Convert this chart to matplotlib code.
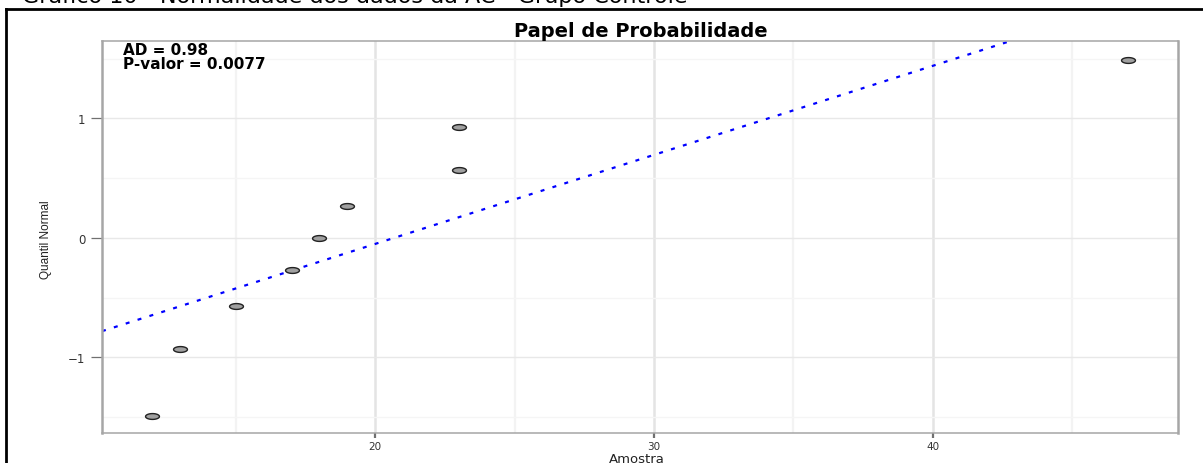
import matplotlib
matplotlib.use("Agg")
import matplotlib.pyplot as plt
import numpy as np
from matplotlib.path import Path
from matplotlib.lines import Line2D

# data
amostra = [12, 13, 15, 17, 18, 19, 23, 23, 47]
quantil = [-1.49, -0.93, -0.57, -0.27, 0.0, 0.27, 0.57, 0.93, 1.49]
line_intercept = -1.54
line_slope = 0.0745
x_ticks = [20, 30, 40]
y_ticks = [-1, 0, 1]
x_minor = [15, 25, 35, 45]
y_minor = [-1.5, -0.5, 0.5, 1.5]
ad_text = "AD = 0.98"
p_text = "P-valor = 0.0077"
title = "Papel de Probabilidade"
caption = "Gráfico 10 - Normalidade dos dados da AC - Grupo Controle"

plt.rcParams['font.family'] = ['DejaVu Sans']

W, H = 1203, 464
fig = plt.figure(figsize=(W/100, H/100), dpi=100)
ax = fig.add_axes([102/W, 30/H, (1178-102)/W, (434-42)/H])

xlim = (10.2, 48.8)
ylim = (-1.632, 1.648)
ax.set_xlim(*xlim)
ax.set_ylim(*ylim)

# grid
ax.set_xticks(x_ticks)
ax.set_yticks(y_ticks)
ax.set_xticks(x_minor, minor=True)
ax.set_yticks(y_minor, minor=True)
ax.xaxis.grid(True, which='major', color='#e4e4e4', lw=1.8)
ax.xaxis.grid(True, which='minor', color='#f3f3f3', lw=1.6)
ax.yaxis.grid(True, which='major', color='#e8e8e8', lw=1.0)
ax.yaxis.grid(True, which='minor', color='#f5f5f5', lw=1.0)
ax.set_axisbelow(True)
ax.tick_params(which='minor', length=0)
ax.tick_params(axis='x', which='major', length=3.5, width=1.6, color='#707070',
               labelsize=7.5, labelcolor='#333333', pad=2)
ax.tick_params(axis='y', which='major', length=8, width=0.9, color='#707070',
               labelsize=8.5, labelcolor='#333333', pad=4)

for s in ['left', 'right']:
    ax.spines[s].set_color('#a6a6a6')
    ax.spines[s].set_linewidth(1.8)
for s in ['top', 'bottom']:
    ax.spines[s].set_color('#a6a6a6')
    ax.spines[s].set_linewidth(1.1)

# reference line
xs = np.array(xlim)
ax.plot(xs, line_intercept + line_slope * xs, color='#0000ff', lw=1.6,
        linestyle=(0, (1.8, 3.8)), zorder=2)

# ellipse marker (stretched circle)
t = np.linspace(0, 2*np.pi, 40)
verts = np.column_stack([np.cos(t), 0.42*np.sin(t)])
ell = Path(verts, closed=True)
ax.scatter(amostra, quantil, marker=ell, s=100, facecolor='#a0a0a0',
           edgecolor='#222222', linewidths=1.0, zorder=3)

# labels
fig.text(637/W, 1 - 463/H, "Amostra", fontsize=9.5, color='#222222',
         ha='center', va='baseline')
fig.text(46/W, 1 - 240/H, "Quantil Normal", fontsize=8.5, color='#222222',
         rotation=90, ha='center', va='center', family='Liberation Sans')
fig.text(641/W, 1 - 37/H, title, fontsize=14, fontweight='bold',
         ha='center', va='baseline')

fig.text(123/W, 1 - 55/H, ad_text, fontsize=11, fontweight='bold',
         ha='left', va='baseline')
fig.text(123/W, 1 - 69/H, p_text, fontsize=11, fontweight='bold',
         ha='left', va='baseline')

# outer frame and caption
fig.add_artist(Line2D([6/W, 1.0], [1 - 10/H, 1 - 10/H], transform=fig.transFigure,
                      color='black', lw=2))
fig.add_artist(Line2D([6/W, 6/W], [0, 1 - 10/H], transform=fig.transFigure,
                      color='black', lw=2))
fig.text(22/W, 1 - 3/H, caption, fontsize=16, ha='left', va='baseline')

fig.savefig("out.png", dpi=100)
